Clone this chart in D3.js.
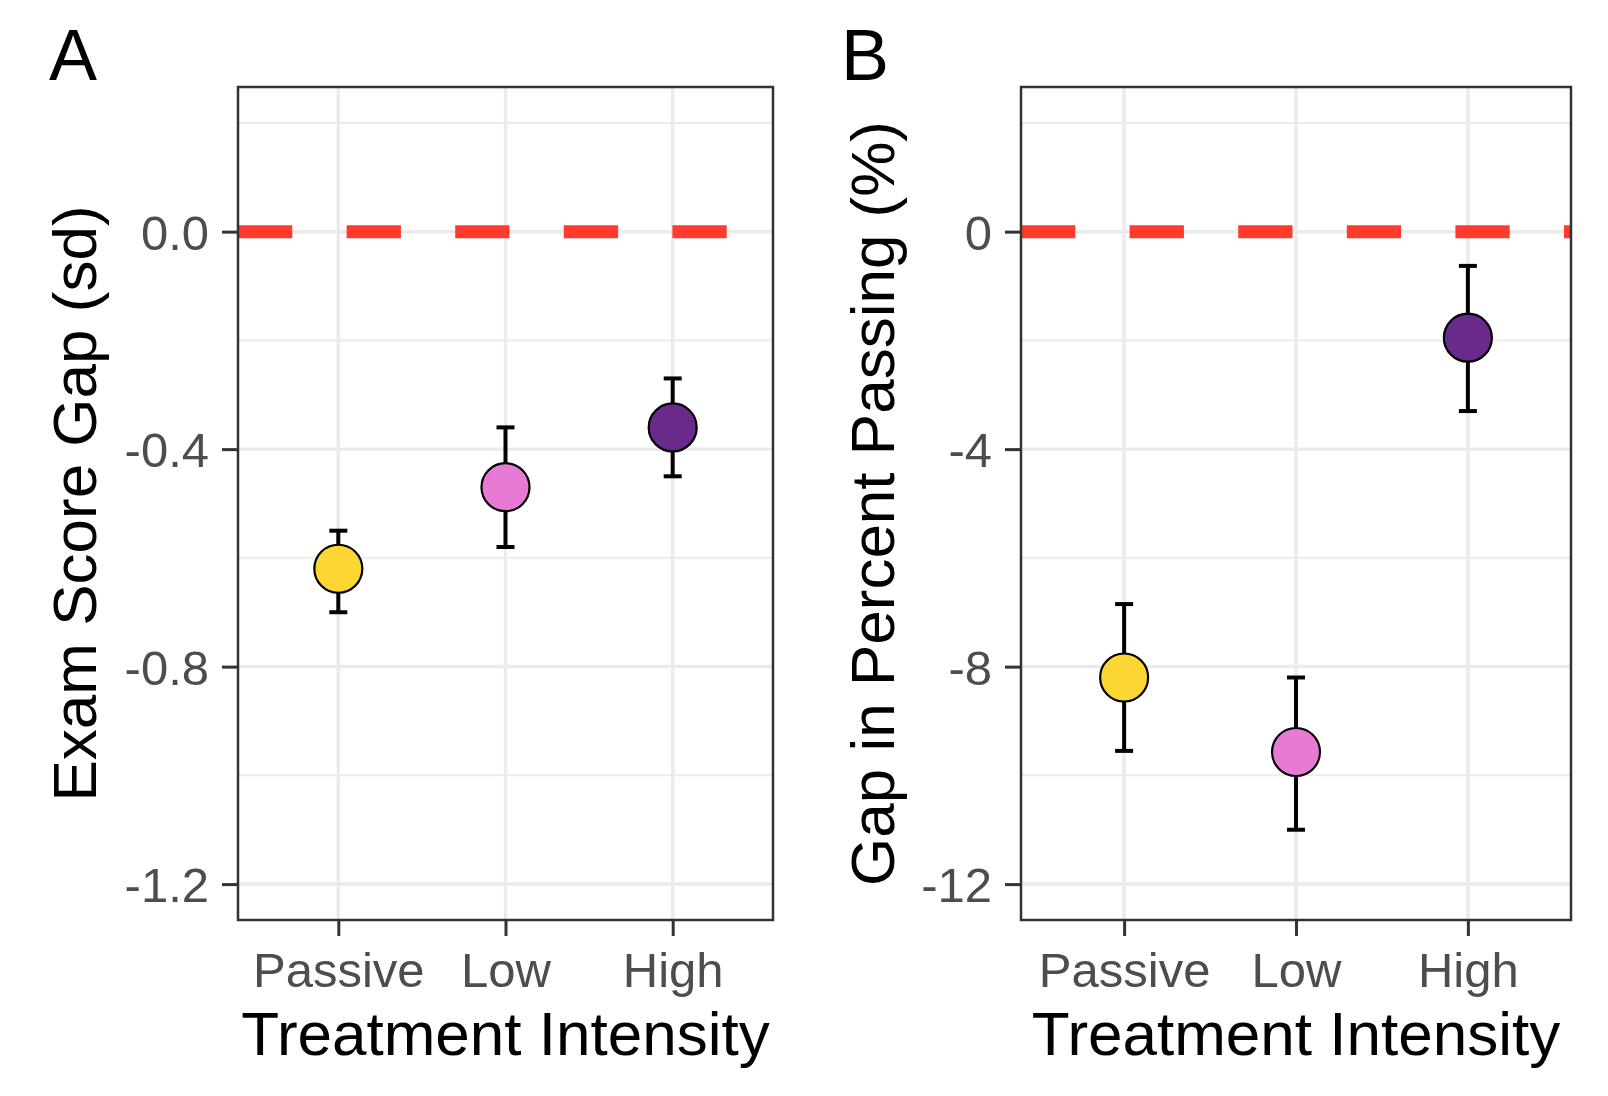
<!DOCTYPE html>
<html>
<head>
<meta charset="utf-8">
<script src="https://cdn.jsdelivr.net/npm/d3@7"></script>
<style>
  html, body { margin: 0; padding: 0; background: #ffffff; }
  svg { display: block; }
  text { font-family: "Liberation Sans", Arial, Helvetica, sans-serif; }
</style>
</head>
<body>
<svg id="chart" width="1608" height="1096"></svg>
<script>
// ---- data ----
const categories = ["Passive", "Low", "High"];
const pointColors = ["#FCD733", "#E77BD4", "#6A2A8B"];

const examGap   = [-0.62, -0.47, -0.36];
const examLower = [-0.70, -0.58, -0.45];
const examUpper = [-0.55, -0.36, -0.27];

const passGap   = [-8.2, -9.57, -1.95];
const passLower = [-9.55, -11.0, -3.3];
const passUpper = [-6.85, -8.2, -0.63];

const yMajorA = [0.0, -0.4, -0.8, -1.2];
const yMinorA = [0.2, -0.2, -0.6, -1.0];
const yMajorB = [0, -4, -8, -12];
const yMinorB = [2, -2, -6, -10];

const xTitle = "Treatment Intensity";
const yTitleA = "Exam Score Gap (sd)";
const yTitleB = "Gap in Percent Passing (%)";

// ---- drawing ----
const svg = d3.select("#chart");
svg.append("rect").attr("width", 1608).attr("height", 1096).attr("fill", "#ffffff");

function panel(opts) {
  const { left, right, top, bottom, domain, major, minor, fmt, mean, lo, hi,
          yTitle, yTitleX, tag, tagX } = opts;
  const g = svg.append("g");
  const x = d3.scalePoint().domain(categories).range([left, right]).padding(0.6);
  const y = d3.scaleLinear().domain(domain).range([bottom, top]);

  // grid
  g.selectAll(".minor").data(minor).join("line")
    .attr("x1", left).attr("x2", right)
    .attr("y1", d => y(d)).attr("y2", d => y(d))
    .attr("stroke", "#EBEBEB").attr("stroke-width", 2);
  g.selectAll(".majorY").data(major).join("line")
    .attr("x1", left).attr("x2", right)
    .attr("y1", d => y(d)).attr("y2", d => y(d))
    .attr("stroke", "#EBEBEB").attr("stroke-width", 3.5);
  g.selectAll(".majorX").data(categories).join("line")
    .attr("x1", d => x(d)).attr("x2", d => x(d))
    .attr("y1", top).attr("y2", bottom)
    .attr("stroke", "#EBEBEB").attr("stroke-width", 3.5);

  // clip for dashed line
  const clipId = "clip" + tag;
  svg.append("clipPath").attr("id", clipId).append("rect")
    .attr("x", left).attr("y", top).attr("width", right - left).attr("height", bottom - top);

  // reference line at 0
  g.append("line")
    .attr("clip-path", `url(#${clipId})`)
    .attr("x1", left).attr("x2", right)
    .attr("y1", y(0)).attr("y2", y(0))
    .attr("stroke", "#FF3B2D").attr("stroke-width", 13)
    .attr("stroke-dasharray", "54.3 54.3");

  // error bars
  const capW = 9;
  categories.forEach((c, i) => {
    const cx = x(c);
    g.append("line").attr("x1", cx).attr("x2", cx)
      .attr("y1", y(lo[i])).attr("y2", y(hi[i]))
      .attr("stroke", "#000").attr("stroke-width", 4);
    [lo[i], hi[i]].forEach(v => {
      g.append("line").attr("x1", cx - capW).attr("x2", cx + capW)
        .attr("y1", y(v)).attr("y2", y(v))
        .attr("stroke", "#000").attr("stroke-width", 4);
    });
  });

  // points
  g.selectAll(".pt").data(categories).join("circle")
    .attr("cx", d => x(d)).attr("cy", (d, i) => y(mean[i]))
    .attr("r", 24)
    .attr("fill", (d, i) => pointColors[i])
    .attr("stroke", "#000").attr("stroke-width", 2.2);

  // border
  g.append("rect").attr("x", left).attr("y", top)
    .attr("width", right - left).attr("height", bottom - top)
    .attr("fill", "none").attr("stroke", "#333333").attr("stroke-width", 2.5);

  // y axis
  const ya = d3.axisLeft(y).tickValues(major).tickFormat(fmt).tickSize(16).tickPadding(13);
  const yg = svg.append("g").attr("transform", `translate(${left},0)`).call(ya);
  yg.select(".domain").remove();
  yg.selectAll(".tick line").attr("stroke", "#333333").attr("stroke-width", 3);
  yg.selectAll(".tick text").attr("fill", "#4D4D4D").style("font-size", "49px")
    .attr("dy", "0.36em");

  // x axis
  const xa = d3.axisBottom(x).tickSize(16).tickPadding(16);
  const xg = svg.append("g").attr("transform", `translate(0,${bottom})`).call(xa);
  xg.select(".domain").remove();
  xg.selectAll(".tick line").attr("stroke", "#333333").attr("stroke-width", 3);
  xg.selectAll(".tick text").attr("fill", "#4D4D4D").style("font-size", "49px")
    .attr("dy", "0.71em");

  // titles
  svg.append("text").attr("x", (left + right) / 2).attr("y", 1055)
    .attr("text-anchor", "middle").style("font-size", "62px").attr("fill", "#000")
    .text(xTitle);
  svg.append("text").attr("transform", `translate(${yTitleX},${(top + bottom) / 2}) rotate(-90)`)
    .attr("text-anchor", "middle").style("font-size", "62px").attr("fill", "#000")
    .text(yTitle);
  svg.append("text").attr("x", tagX).attr("y", 80)
    .style("font-size", "72px").attr("fill", "#000").text(tag);
}

panel({
  left: 238, right: 773, top: 87, bottom: 920,
  domain: [-1.266, 0.266], major: yMajorA, minor: yMinorA,
  fmt: d => d.toFixed(1), mean: examGap, lo: examLower, hi: examUpper,
  yTitle: yTitleA, yTitleX: 96, tag: "A", tagX: 49
});
panel({
  left: 1021, right: 1571, top: 87, bottom: 920,
  domain: [-12.66, 2.66], major: yMajorB, minor: yMinorB,
  fmt: d => d.toFixed(0), mean: passGap, lo: passLower, hi: passUpper,
  yTitle: yTitleB, yTitleX: 894, tag: "B", tagX: 841
});
</script>
</body>
</html>
